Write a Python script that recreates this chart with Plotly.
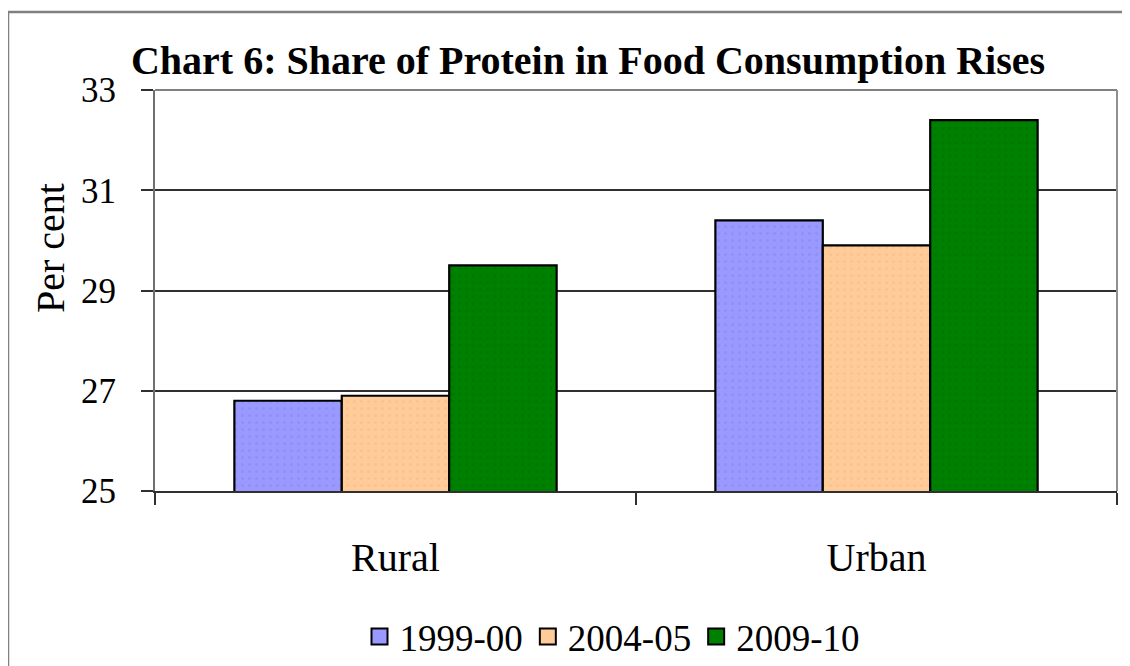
import plotly.graph_objects as go

categories = ["Rural", "Urban"]
series_names = ["1999-00", "2004-05", "2009-10"]
values_1999 = [26.8, 30.4]
values_2004 = [26.9, 29.9]
values_2009 = [29.5, 32.4]
y_ticks = [25, 27, 29, 31, 33]

colors = ["#9999FF", "#FFCC99", "#008000"]
dots = ["#8585EE", "#EEBB80", "#007000"]
series_values = [values_1999, values_2004, values_2009]

FONT = "Liberation Serif"
OFF = 8  # page body margin
W, H = 1130 - OFF, 666 - OFF
L, R, T, B = 155 - OFF, 13, 90 - OFF, 175

fig = go.Figure()
for name, vals, c, d in zip(series_names, series_values, colors, dots):
    fig.add_trace(go.Bar(
        x=categories, y=vals, name=name, legendgroup=name, showlegend=False,
        marker=dict(color=c, line=dict(color="black", width=2.2),
                    pattern=dict(shape=".", fgcolor=d, size=7, solidity=0.15)),
    ))
# legend entries with larger square swatches
for name, c in zip(series_names, colors):
    fig.add_trace(go.Scatter(
        x=[None], y=[None], mode="markers", name=name, legendgroup=name,
        marker=dict(symbol="square", size=17, color=c, line=dict(color="black", width=2)),
    ))

pw = W - L - R
ph = H - T - B
def px(xw):
    return (xw - OFF - L) / pw
def py(yw):
    return (H - B - (yw - OFF)) / ph

fig.update_layout(
    width=W, height=H,
    margin=dict(l=L, r=R, t=T, b=B, autoexpand=False),
    paper_bgcolor="white", plot_bgcolor="white",
    barmode="group", bargap=0.33, bargroupgap=0,
    font=dict(family=FONT, color="black"),
    title=dict(text="<b>Chart 6: Share of Protein in Food Consumption Rises</b>",
               font=dict(family=FONT, size=40, color="black"),
               x=(588 - OFF) / W, xanchor="center", y=1 - (60 - OFF) / H, yanchor="middle",
               xref="container", yref="container"),
    showlegend=True,
    legend=dict(orientation="h", x=px(612), xanchor="center", y=py(637), yanchor="middle",
                font=dict(family=FONT, size=37, color="black"), traceorder="normal",
                itemwidth=30),
    xaxis=dict(
        type="category", showline=True, linecolor="#303030", linewidth=2,
        ticks="outside", ticklen=12, tickcolor="#303030", tickwidth=2,
        tickson="boundaries", showgrid=False, automargin=False,
        tickfont=dict(family=FONT, size=40, color="black"),
        ticklabelstandoff=30,
    ),
    yaxis=dict(
        range=[25, 33], tickvals=y_ticks, showline=True, linecolor="#707070", linewidth=2,
        ticks="outside", ticklen=12, tickcolor="#303030", tickwidth=2,
        showgrid=True, gridcolor="#303030", gridwidth=1.5, automargin=False,
        tickfont=dict(family=FONT, size=35, color="black"),
        ticklabelstandoff=18, zeroline=False,
    ),
    shapes=[
        dict(type="rect", xref="paper", yref="paper", x0=px(8), x1=1.2, y0=-0.8, y1=py(12),
             line=dict(color="#808080", width=2.5), layer="below"),
        dict(type="line", xref="paper", yref="paper", x0=0, x1=1, y0=1, y1=1,
             line=dict(color="#808080", width=2)),
        dict(type="line", xref="paper", yref="paper", x0=1, x1=1, y0=0, y1=1,
             line=dict(color="#909090", width=2)),
    ],
    annotations=[
        dict(text="Per cent", xref="paper", yref="paper", x=px(50), y=py(248),
             textangle=-90, showarrow=False, xanchor="center", yanchor="middle",
             font=dict(family=FONT, size=40, color="black")),
    ],
)

fig.write_html("out.html")
